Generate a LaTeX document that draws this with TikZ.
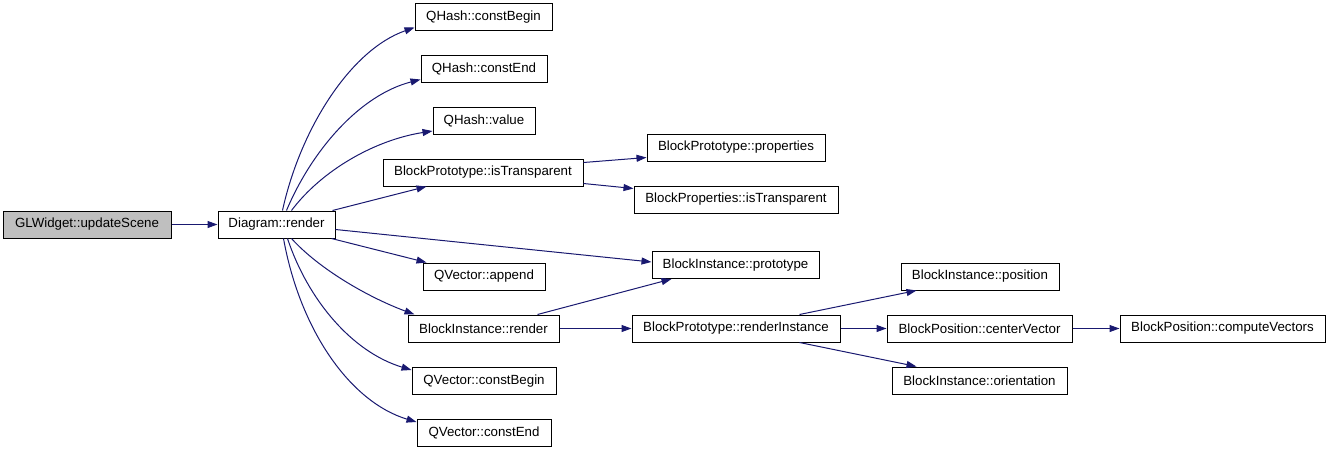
\documentclass[tikz,border=0pt]{standalone}
\usepackage{fontspec}
\setmainfont{Liberation Sans}
\usetikzlibrary{arrows.meta,calc}
\definecolor{edgeblue}{RGB}{25,25,112}
\definecolor{rootgray}{RGB}{191,191,191}
\tikzset{
  fn/.style={draw=black, line width=1pt, fill=white, rectangle, inner sep=0pt,
    minimum height=27pt, font=\fontsize{13.3}{16}\selectfont, text=black},
  root/.style={fn, fill=rootgray},
  call/.style={draw=edgeblue, line width=1pt, -{Triangle[length=10pt,width=7pt]}}
}
\begin{document}
\begin{tikzpicture}[x=1pt,y=-1pt]
\useasboundingbox (0,0) rectangle (1331,453);
% rank 0/1
\node[root, minimum width=168] (upd) at (87,224.5) {GLWidget::updateScene};
\node[fn, minimum width=117] (dr) at (276.5,224.5) {Diagram::render};
% rank 2
\node[fn, minimum width=137] (qcb) at (483.5,17) {QHash::constBegin};
\node[fn, minimum width=126] (qce) at (484,69) {QHash::constEnd};
\node[fn, minimum width=102] (qv) at (484,120.5) {QHash::value};
\node[fn, minimum width=200] (bpit) at (483,172.5) {BlockPrototype::isTransparent};
\node[fn, minimum width=122] (qva) at (484,276.5) {QVector::append};
\node[fn, minimum width=151] (bir) at (483.5,328.5) {BlockInstance::render};
\node[fn, minimum width=144] (qvcb) at (484,381) {QVector::constBegin};
\node[fn, minimum width=134] (qvce) at (484,433) {QVector::constEnd};
% rank 3
\node[fn, minimum width=178] (bpp) at (736,147.5) {BlockPrototype::properties};
\node[fn, minimum width=204] (bpit2) at (736,199.5) {BlockProperties::isTransparent};
\node[fn, minimum width=167] (bip) at (735.5,265) {BlockInstance::prototype};
\node[fn, minimum width=208] (bpri) at (736,328.5) {BlockPrototype::renderInstance};
% rank 4
\node[fn, minimum width=158] (bipos) at (980,276.5) {BlockInstance::position};
\node[fn, minimum width=185] (bpcv) at (979.5,328.5) {BlockPosition::centerVector};
\node[fn, minimum width=175] (bio) at (979.5,380.5) {BlockInstance::orientation};
% rank 5
\node[fn, minimum width=205] (bpcomp) at (1222.5,328.5) {BlockPosition::computeVectors};

% edges
\draw[call] (upd.east) -- (dr.west);
\draw[call] ($(dr.north west)+(65,0)$) .. controls (300,130) and (350,50) .. ($(qcb.south west)+(0,-3.5)$);
\draw[call] ($(dr.north west)+(69,0)$) .. controls (312,150) and (360,95) .. ($(qce.south west)+(0,-3.5)$);
\draw[call] ($(dr.north west)+(74,0)$) .. controls (322,170) and (375,140) .. ($(qv.south west)+(0,-3.5)$);
\draw[call] ($(dr.north east)+(-3,0)$) -- ($(bpit.south west)+(44,0)$);
\draw[call] ($(dr.east)+(0,5)$) -- ($(bip.west)+(0,-3)$);
\draw[call] ($(dr.south east)+(-4,0)$) -- ($(qva.north west)+(4,0)$);
\draw[call] ($(dr.south west)+(74,0)$) .. controls (320,270) and (370,298) .. ($(bir.north west)+(7,0)$);
\draw[call] ($(dr.south west)+(70,0)$) .. controls (308,300) and (352,352) .. ($(qvcb.north west)+(0,3)$);
\draw[call] ($(dr.south west)+(66,0)$) .. controls (300,330) and (350,402) .. ($(qvce.north west)+(0,3)$);

\draw[call] ($(bpit.north east)+(0,4)$) -- ($(bpp.south west)+(0,-4)$);
\draw[call] ($(bpit.south east)+(0,-3)$) -- ($(bpit2.north west)+(0,3)$);
\draw[call] ($(bir.north west)+(130,0)$) -- ($(bip.south west)+(20,0)$);
\draw[call] (bir.east) -- (bpri.west);

\draw[call] ($(bpri.north west)+(168,0)$) -- ($(bipos.south west)+(16,0)$);
\draw[call] (bpri.east) -- (bpcv.west);
\draw[call] ($(bpri.south west)+(168,0)$) -- ($(bio.north west)+(25,0)$);
\draw[call] (bpcv.east) -- (bpcomp.west);
\end{tikzpicture}
\end{document}
